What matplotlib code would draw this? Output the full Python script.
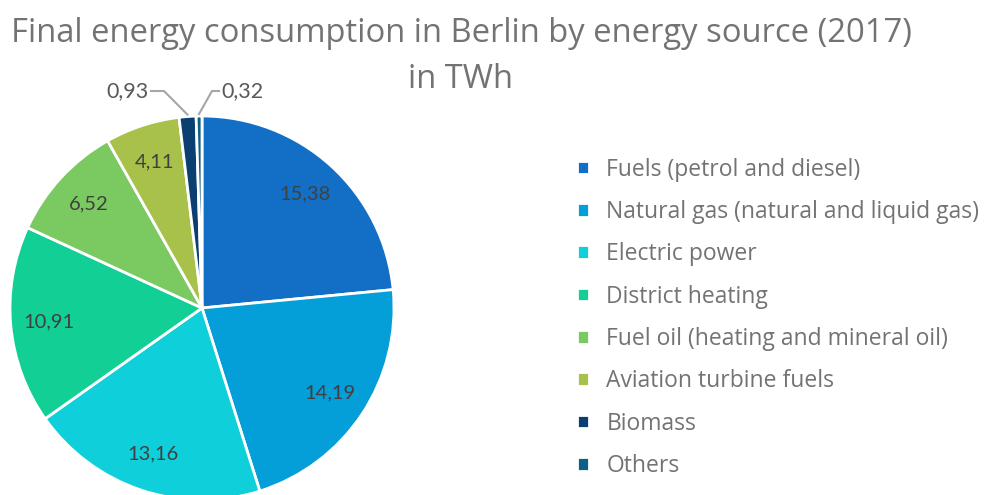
import matplotlib
matplotlib.use("Agg")
import matplotlib.pyplot as plt
import numpy as np

# --- Data ---
sources = [
    "Fuels (petrol and diesel)",
    "Natural gas (natural and liquid gas)",
    "Electric power",
    "District heating",
    "Fuel oil (heating and mineral oil)",
    "Aviation turbine fuels",
    "Biomass",
    "Others",
]
twh = [15.38, 14.19, 13.16, 10.91, 6.52, 4.11, 0.93, 0.32]
value_labels = ["15,38", "14,19", "13,16", "10,91", "6,52", "4,11", "0,93", "0,32"]
colors = ["#136fc6", "#049ed8", "#0ecfda", "#12cf96", "#7bca61", "#a8c14a", "#0b3f72", "#0c5f85"]

plt.rcParams["font.family"] = ["Open Sans", "DejaVu Sans"]

W, H = 987, 495
fig = plt.figure(figsize=(W / 100, H / 100), dpi=100)
ax = fig.add_axes([0, 0, 1, 1])

cx, cy, r = 202, H - 308, 192

wedges, _ = ax.pie(
    twh, colors=colors, startangle=90, counterclock=False,
    center=(cx, cy), radius=r, frame=True,
    wedgeprops=dict(edgecolor="white", linewidth=2),
)
ax.set_xlim(0, W)
ax.set_ylim(0, H)
ax.set_aspect("equal")
ax.axis("off")

# --- Value labels ---
for w, lab in zip(wedges[:6], value_labels[:6]):
    ang = np.deg2rad((w.theta1 + w.theta2) / 2)
    d = 0.8 * r
    ax.text(cx + d * np.cos(ang), cy + d * np.sin(ang), lab,
            ha="center", va="center", fontsize=14.5, color="#404040",
            family=["Lato", "DejaVu Sans"])

# small slices with leader lines
small = [(wedges[6], value_labels[6], (164, H - 91), (149, H - 91), "right"),
         (wedges[7], value_labels[7], (212, H - 91), (221, H - 91), "left")]
for w, lab, elbow, tpos, ha in small:
    ang = np.deg2rad((w.theta1 + w.theta2) / 2)
    ex, ey = cx + (r + 2) * np.cos(ang), cy + (r + 2) * np.sin(ang)
    ax.plot([ex, elbow[0], tpos[0] + (2 if ha == "right" else -2)],
            [ey, elbow[1], tpos[1]], color="#a6a6a6", lw=1.5)
    ax.text(tpos[0], tpos[1], lab, ha=ha, va="center", fontsize=15.5,
            color="#595959", family=["Lato", "DejaVu Sans"])

# --- Title ---
fig.text(461 / W, 1 - 33 / H, "Final energy consumption in Berlin by energy source (2017)",
         ha="center", va="center", fontsize=23.6, color="#737373")
fig.text(461 / W, 1 - 79 / H, "in TWh", ha="center", va="center",
         fontsize=23.6, color="#737373")

# --- Legend ---
ax.legend(wedges, sources, loc="upper left", bbox_to_anchor=(556 / W, 1 - 137 / H),
          frameon=False, fontsize=16.5, labelcolor="#737373",
          handlelength=0.55, handleheight=0.55, handletextpad=0.75,
          labelspacing=0.8)

fig.savefig("out.png", dpi=100)
